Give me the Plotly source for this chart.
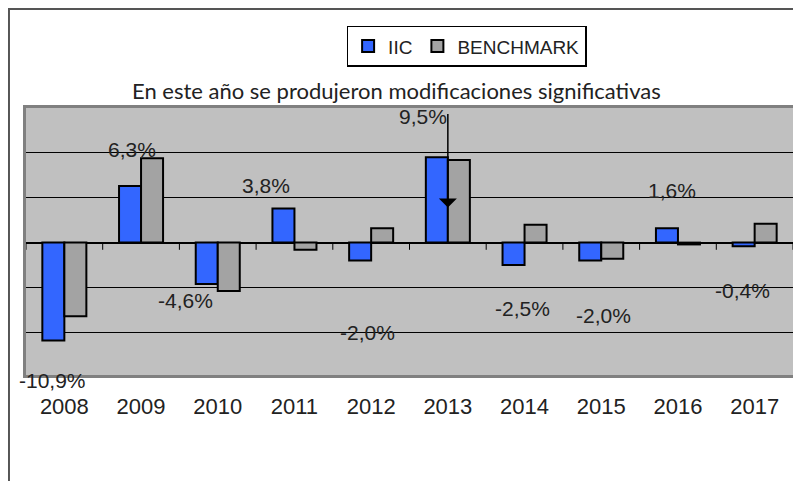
import plotly.graph_objects as go

years = ["2008", "2009", "2010", "2011", "2012", "2013", "2014", "2015", "2016", "2017"]
iic = [-10.9, 6.3, -4.6, 3.8, -2.0, 9.5, -2.5, -2.0, 1.6, -0.4]
benchmark = [-8.2, 9.4, -5.4, -0.8, 1.6, 9.2, 2.0, -1.8, -0.2, 2.1]

# placement of the IIC value labels (data y, pixel x / y offsets)
label_y = [-14.75, 10.4, -6.5, 6.4, -10.0, 14.1, -7.3, -8.1, 5.8, -5.3]
label_dx = [-12, -9, -32, -28, -4, -25, -2, 2, -6, -12]
label_dy = [-5, 0, 0, 0, 0, 0, 0, 0, 0, 0]

note_text = "En este año se produjeron modificaciones significativas"
arrow_idx = years.index("2013")

FONT = "Liberation Sans, Arial, sans-serif"

fig = go.Figure()
fig.add_trace(go.Bar(name="IIC", x=years, y=iic,
                     marker=dict(color="#3366ff", line=dict(color="#000000", width=2))))
fig.add_trace(go.Bar(name="BENCHMARK", x=years, y=benchmark,
                     marker=dict(color="#a3a3a3", line=dict(color="#000000", width=2))))

annotations = []
for i, (v, ly, dx, dy) in enumerate(zip(iic, label_y, label_dx, label_dy)):
    annotations.append(dict(
        x=i, y=ly, xref="x", yref="y", xshift=dx, yshift=dy,
        xanchor="center", yanchor="middle",
        text=f"{v:.1f}%".replace(".", ","), showarrow=False,
        font=dict(family=FONT, size=21, color="#222222")))

annotations.append(dict(
    x=0.4837, y=1.065, xref="paper", yref="paper", text=note_text,
    xanchor="center", yanchor="middle",
    showarrow=False, font=dict(family="Lato, Open Sans, sans-serif", size=22, color="#222222")))

annotations.append(dict(
    x=arrow_idx, y=3.92, xref="x", yref="y", text="", showarrow=True,
    ax=0, ay=-95, arrowhead=1, arrowsize=2, arrowwidth=1.5, arrowcolor="#000000"))

shapes = []
# outer frame
shapes.append(dict(type="rect", xref="paper", yref="paper", x0=-0.0222, x1=1.05,
                   y0=-0.5, y1=1.3705, line=dict(color="#555555", width=2), layer="below"))
# ticks on zero line at category boundaries
for k in range(len(years) + 1):
    shapes.append(dict(type="line", xref="x", yref="y", x0=k - 0.5, x1=k - 0.5,
                       y0=0, y1=-0.8, line=dict(color="#000000", width=1)))

fig.update_layout(
    width=801, height=481,
    margin=dict(l=18, r=16, t=100, b=114, autoexpand=False),
    paper_bgcolor="#ffffff", plot_bgcolor="#c0c0c0",
    barmode="group", bargap=0.426, bargroupgap=0,
    showlegend=True,
    legend=dict(orientation="h", x=0.418, y=1.308, xanchor="left", yanchor="top",
                bgcolor="#ffffff", bordercolor="#000000", borderwidth=1.5,
                font=dict(family=FONT, size=19, color="#222222"),
                itemwidth=30, tracegroupgap=0),
    annotations=annotations, shapes=shapes,
    xaxis=dict(type="category", range=[-0.5, len(years) - 0.5], autorange=False,
               showgrid=False, showline=True, mirror=True,
               linecolor="#808080", linewidth=2.5, ticks="",
               tickfont=dict(family=FONT, size=22, color="#222222"),
               ticklabelstandoff=10, zeroline=False, automargin=False),
    yaxis=dict(range=[-14.75, 15], dtick=5, tick0=0, showticklabels=False,
               showgrid=True, gridcolor="#000000", gridwidth=1.2,
               zeroline=True, zerolinecolor="#000000", zerolinewidth=1.5,
               showline=True, mirror=True, linecolor="#808080", linewidth=2.5,
               automargin=False),
)

fig.write_html("out.html")
